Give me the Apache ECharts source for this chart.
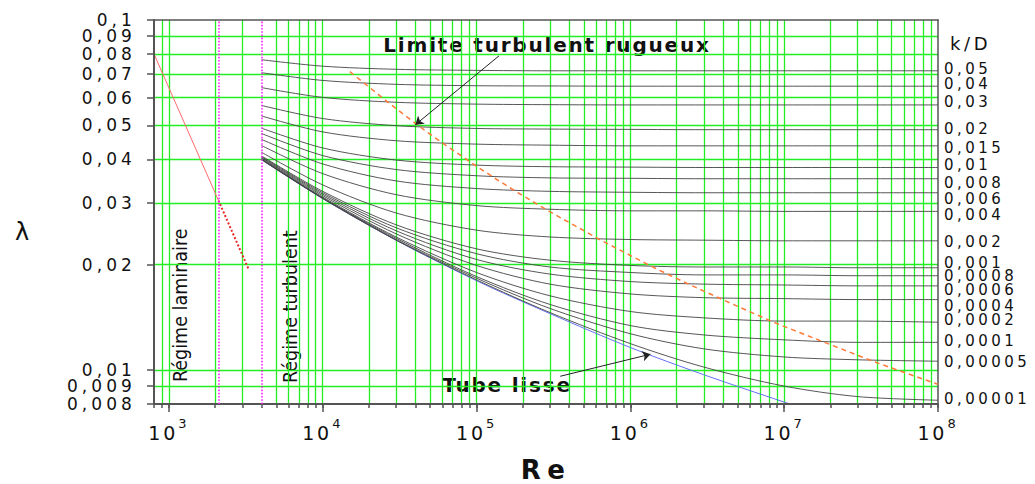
<!DOCTYPE html>
<html>
<head>
<meta charset="utf-8">
<script src="https://cdn.jsdelivr.net/npm/echarts@6/dist/echarts.min.js"></script>
<style>
  html, body { margin: 0; padding: 0; background: #fff; }
  #chart { width: 1035px; height: 484px; }
  /* the original lettering is set wide, so open it up per font size */
  #chart svg text[style*="17px"] { letter-spacing: 0.24em; }
  #chart svg text[style*="15px"] { letter-spacing: 0.23em; }
  #chart svg text[style*="18px"] { letter-spacing: 0.2em; }
  #chart svg text[style*="19px"] { letter-spacing: 0.15em; }
  #chart svg text[style*="20px"] { letter-spacing: 0.09em; }
  #chart svg text[style*="26px"] { letter-spacing: 0.25em; }
</style>
</head>
<body>
<div id="chart"></div>
<script>
// Reynolds numbers where the turbulent curves were read
const reGrid = [4000, 10000, 30000, 100000, 300000, 1000000, 3000000, 10000000, 30000000, 100000000];

const kdLabels = ['0,05', '0,04', '0,03', '0,02', '0,015', '0,01', '0,008', '0,006', '0,004',
  '0,002', '0,001', '0,0008', '0,0006', '0,0004', '0,0002', '0,0001', '0,00005', '0,00001'];
// small vertical nudges of the k/D labels, as spread in the original
const kdLabelNudge = [-2, -2.5, -2.6, -0.7, 2.6, -2.5, 4.3, 6, 3.5, 1.6, -5, 0.5, 4, 6, -2, -1, 1, -1.5];

// lambda for each k/D, read along reGrid
const lamKd05 = [0.0770, 0.0738, 0.0723, 0.0718, 0.0716, 0.0716, 0.0716, 0.0716, 0.0716, 0.0716];
const lamKd04 = [0.0707, 0.0672, 0.0655, 0.0649, 0.0648, 0.0647, 0.0647, 0.0647, 0.0647, 0.0647];
const lamKd03 = [0.0641, 0.0601, 0.0582, 0.0575, 0.0573, 0.0572, 0.0572, 0.0572, 0.0572, 0.0572];
const lamKd02 = [0.0570, 0.0523, 0.0499, 0.0490, 0.0488, 0.0487, 0.0486, 0.0486, 0.0486, 0.0486];
const lamKd015 = [0.0532, 0.0479, 0.0452, 0.0442, 0.0439, 0.0437, 0.0437, 0.0437, 0.0437, 0.0437];
const lamKd01 = [0.0491, 0.0431, 0.0398, 0.0385, 0.0381, 0.0380, 0.0379, 0.0379, 0.0379, 0.0379];
const lamKd008 = [0.0474, 0.0410, 0.0374, 0.0359, 0.0354, 0.0353, 0.0352, 0.0352, 0.0352, 0.0352];
const lamKd006 = [0.0456, 0.0388, 0.0347, 0.0330, 0.0324, 0.0322, 0.0321, 0.0321, 0.0321, 0.0321];
const lamKd004 = [0.0438, 0.0364, 0.0317, 0.0295, 0.0288, 0.0285, 0.0285, 0.0284, 0.0284, 0.0284];
const lamKd002 = [0.0419, 0.0338, 0.0281, 0.0251, 0.0240, 0.0236, 0.0235, 0.0234, 0.0234, 0.0234];
const lamKd001 = [0.0409, 0.0324, 0.0260, 0.0222, 0.0206, 0.0199, 0.0197, 0.0197, 0.0196, 0.0196];
const lamKd0008 = [0.0407, 0.0321, 0.0255, 0.0215, 0.0197, 0.0190, 0.0187, 0.0187, 0.0186, 0.0186];
const lamKd0006 = [0.0405, 0.0318, 0.0250, 0.0207, 0.0188, 0.0179, 0.0176, 0.0175, 0.0174, 0.0174];
const lamKd0004 = [0.0403, 0.0315, 0.0245, 0.0199, 0.0176, 0.0165, 0.0161, 0.0160, 0.0159, 0.0159];
const lamKd0002 = [0.0401, 0.0312, 0.0240, 0.0190, 0.0163, 0.0147, 0.0141, 0.0138, 0.0138, 0.0137];
const lamKd0001 = [0.0400, 0.0310, 0.0238, 0.0185, 0.0154, 0.0134, 0.0126, 0.0122, 0.0120, 0.0120];
const lamKd00005 = [0.0400, 0.0310, 0.0236, 0.0183, 0.0150, 0.0127, 0.0115, 0.0109, 0.0107, 0.0106];
const lamKd00001 = [0.0399, 0.0309, 0.0235, 0.0181, 0.0146, 0.0119, 0.0102, 0.0090, 0.0084, 0.0082];

const roughCurves = [lamKd05, lamKd04, lamKd03, lamKd02, lamKd015, lamKd01, lamKd008, lamKd006,
  lamKd004, lamKd002, lamKd001, lamKd0008, lamKd0006, lamKd0004, lamKd0002, lamKd0001,
  lamKd00005, lamKd00001];

// smooth tube
const smoothRe = [4000, 10000, 30000, 100000, 300000, 1000000, 3000000, 10000000, 12000000];
const smoothLam = [0.0399, 0.0309, 0.0235, 0.0180, 0.0145, 0.0116, 0.0097, 0.0081, 0.0079];

// laminar 64/Re, solid part and dotted continuation
const laminarRe = [800, 2100];
const laminarLam = [0.080, 0.0305];
const laminarTailRe = [2100, 3300];
const laminarTailLam = [0.0305, 0.0194];

// limit of the fully rough zone
const limitRe = [15000, 19700, 27900, 45400, 63800, 103000, 133000, 186000, 297000, 654000,
  1430000, 1830000, 2530000, 3970000, 8530000, 18300000, 39000000, 100000000];
const limitLam = [0.0712, 0.0647, 0.0572, 0.0486, 0.0437, 0.0379, 0.0352, 0.0321, 0.0284, 0.0234,
  0.0196, 0.0186, 0.0174, 0.0159, 0.0137, 0.0120, 0.01054, 0.0091];

const regimeBounds = [2100, 4000];
const limitArrow = [[140000, 0.079], [40000, 0.0502]];
const smoothArrow = [[350000, 0.0096], [1350000, 0.0111]];

const yTicks = [0.008, 0.009, 0.01, 0.02, 0.03, 0.04, 0.05, 0.06, 0.07, 0.08, 0.09, 0.1];
const xMajor = [1000, 10000, 100000, 1000000, 10000000, 100000000];

const xTicks = [800, 900];
xMajor.slice(0, -1).forEach((d) => {
  for (let m = 1; m < 10; m++) xTicks.push(d * m);
});
xTicks.push(100000000);
const xGrid = xTicks.filter((v) => v > 800 && v < 100000000 && v !== 4000);
const yGrid = yTicks.filter((v) => v > 0.008 && v < 0.1);

const pairs = (xs, ys) => xs.map((x, i) => [x, ys[i]]);

const FONT = "'DejaVu Sans', 'Liberation Sans', sans-serif";
const NARROW = "'Liberation Sans Narrow', 'DejaVu Sans Condensed', sans-serif";
const GREEN = '#22ee22';
const AXIS = '#555';

const chart = echarts.init(document.getElementById('chart'), null, { renderer: 'svg' });

// a hair past the round ends so the end ticks are kept
const logX = { type: 'log', min: 799.99, max: 100000001 };
const logY = { type: 'log', min: 0.0079999, max: 0.1000001 };

const yLabel = (values) => ({
  customValues: values,
  showMinLabel: true,
  showMaxLabel: true,
  hideOverlap: false,
  margin: 18,
  formatter: (v) => String(v).replace('.', ','),
  fontSize: 17,
  lineHeight: 14,
  fontFamily: FONT,
  color: '#111'
});

const curveSeries = roughCurves.map((lam, i) => ({
  type: 'line',
  name: kdLabels[i],
  data: pairs(reGrid, lam),
  showSymbol: false,
  smooth: 0.3,
  silent: true,
  z: 3,
  lineStyle: { color: '#444', width: 0.9 },
  endLabel: {
    show: true,
    formatter: kdLabels[i],
    distance: 6,
    offset: [0, kdLabelNudge[i]],
    color: '#111',
    fontSize: 15,
    lineHeight: 12,
    fontFamily: FONT
  }
}));

const textStyle = (text, font, align) => ({
  text, font, fill: '#111',
  align, verticalAlign: 'middle', textAlign: align, textVerticalAlign: 'middle'
});

chart.setOption({
  animation: false,
  backgroundColor: '#fff',
  grid: { left: 154, right: 97, top: 20, bottom: 80, outerBoundsMode: 'none' },
  xAxis: [
    {
      ...logX,
      position: 'bottom',
      z: 4,
      name: 'Re',
      nameLocation: 'middle',
      nameGap: 53,
      nameTextStyle: { fontSize: 26, fontWeight: 'bold', fontFamily: FONT, color: '#111' },
      axisLine: { onZero: false, lineStyle: { color: AXIS, width: 2 } },
      axisTick: { customValues: xTicks, length: 4, lineStyle: { color: AXIS, width: 1.5 } },
      axisLabel: {
        customValues: xMajor,
        showMinLabel: true,
        showMaxLabel: true,
        margin: 13,
        formatter: (v) => '{b|10}{s|' + Math.round(Math.log10(v)) + '}',
        rich: {
          b: { fontSize: 19, fontFamily: FONT, color: '#111', lineHeight: 25, verticalAlign: 'bottom' },
          s: { fontSize: 13, fontFamily: FONT, color: '#111', verticalAlign: 'top', padding: [0, 0, 0, 3] }
        }
      },
      splitLine: { show: false }
    },
    {
      ...logX,
      position: 'bottom',
      z: 4,
      axisLine: { show: false, onZero: false },
      axisTick: { customValues: xMajor, length: 8, lineStyle: { color: AXIS, width: 1.5 } },
      axisLabel: { show: false },
      splitLine: { show: false }
    },
    {
      ...logX,
      position: 'bottom',
      z: 1,
      axisLine: { show: false, onZero: false },
      axisTick: { show: false, customValues: xGrid },
      axisLabel: { show: false },
      splitLine: { show: true, lineStyle: { color: GREEN, width: 1.3 } }
    },
    {
      ...logX,
      position: 'top',
      z: 4,
      axisLine: { show: true, onZero: false, lineStyle: { color: AXIS, width: 1.5 } },
      axisTick: { show: false },
      axisLabel: { show: false },
      splitLine: { show: false }
    }
  ],
  yAxis: [
    {
      ...logY,
      position: 'left',
      z: 4,
      axisLine: { show: true, onZero: false, lineStyle: { color: AXIS, width: 2 } },
      axisTick: { show: true, customValues: yTicks, length: 7, lineStyle: { color: AXIS, width: 1.5 } },
      axisLabel: yLabel(yTicks.slice(0, -1)),
      splitLine: { show: false }
    },
    {
      // the top label sits on its own axis so the crowded 0,09 is not dropped
      ...logY,
      position: 'left',
      z: 4,
      axisLine: { show: false, onZero: false },
      axisTick: { show: false },
      axisLabel: yLabel(yTicks.slice(-1)),
      splitLine: { show: false }
    },
    {
      ...logY,
      position: 'left',
      z: 1,
      axisLine: { show: false, onZero: false },
      axisTick: { show: false, customValues: yGrid },
      axisLabel: { show: false },
      splitLine: { show: true, lineStyle: { color: GREEN, width: 1.3 } }
    },
    {
      ...logY,
      position: 'right',
      z: 4,
      axisLine: { show: true, onZero: false, lineStyle: { color: AXIS, width: 1.5 } },
      axisTick: { show: false },
      axisLabel: { show: false },
      splitLine: { show: false }
    }
  ],
  series: [
    {
      type: 'line',
      name: 'Tube lisse',
      data: pairs(smoothRe, smoothLam),
      showSymbol: false,
      smooth: 0.3,
      silent: true,
      z: 3,
      lineStyle: { color: '#6470f5', width: 1 }
    },
    ...curveSeries,
    {
      type: 'line',
      name: 'laminaire',
      data: pairs(laminarRe, laminarLam),
      showSymbol: false,
      silent: true,
      z: 3,
      lineStyle: { color: '#ff6a6a', width: 1 }
    },
    {
      type: 'line',
      name: 'laminaire (suite)',
      data: pairs(laminarTailRe, laminarTailLam),
      showSymbol: false,
      silent: true,
      z: 3,
      lineStyle: { color: '#e82828', width: 2, type: 'dotted' }
    },
    {
      type: 'line',
      name: 'Limite turbulent rugueux',
      data: pairs(limitRe, limitLam),
      showSymbol: false,
      silent: true,
      z: 4,
      lineStyle: { color: '#ff7a3a', width: 1.5, type: [5, 4] }
    },
    {
      type: 'line',
      name: 'regimes',
      data: [],
      silent: true,
      z: 4,
      markLine: {
        silent: true,
        animation: false,
        symbol: ['none', 'none'],
        label: { show: false },
        lineStyle: { color: '#ff22ff', width: 1.6, type: 'dotted' },
        data: regimeBounds.map((v) => ({ xAxis: v }))
      }
    },
    {
      type: 'line',
      name: 'arrows',
      data: [],
      silent: true,
      z: 5,
      markLine: {
        silent: true,
        animation: false,
        symbol: ['none', 'arrow'],
        symbolSize: 8,
        label: { show: false },
        lineStyle: { color: '#222', width: 1, type: 'solid' },
        data: [limitArrow, smoothArrow].map((a) => [{ coord: a[0] }, { coord: a[1] }])
      }
    }
  ],
  graphic: [
    { type: 'text', x: 22, y: 232, style: textStyle('λ', '24px ' + FONT, 'center') },
    { type: 'text', x: 950, y: 43, style: textStyle('k/D', '18px ' + FONT, 'left') },
    { type: 'text', x: 180, y: 382, rotation: Math.PI / 2, style: textStyle('Régime laminaire', '19.5px ' + NARROW, 'left') },
    { type: 'text', x: 290, y: 383, rotation: Math.PI / 2, style: textStyle('Régime turbulent', '19.5px ' + NARROW, 'left') },
    { type: 'text', x: 547, y: 45, style: textStyle('Limite turbulent rugueux', 'bold 20px ' + FONT, 'center') },
    { type: 'text', x: 507, y: 385, style: textStyle('Tube lisse', 'bold 20px ' + FONT, 'center') }
  ]
});
</script>
</body>
</html>
